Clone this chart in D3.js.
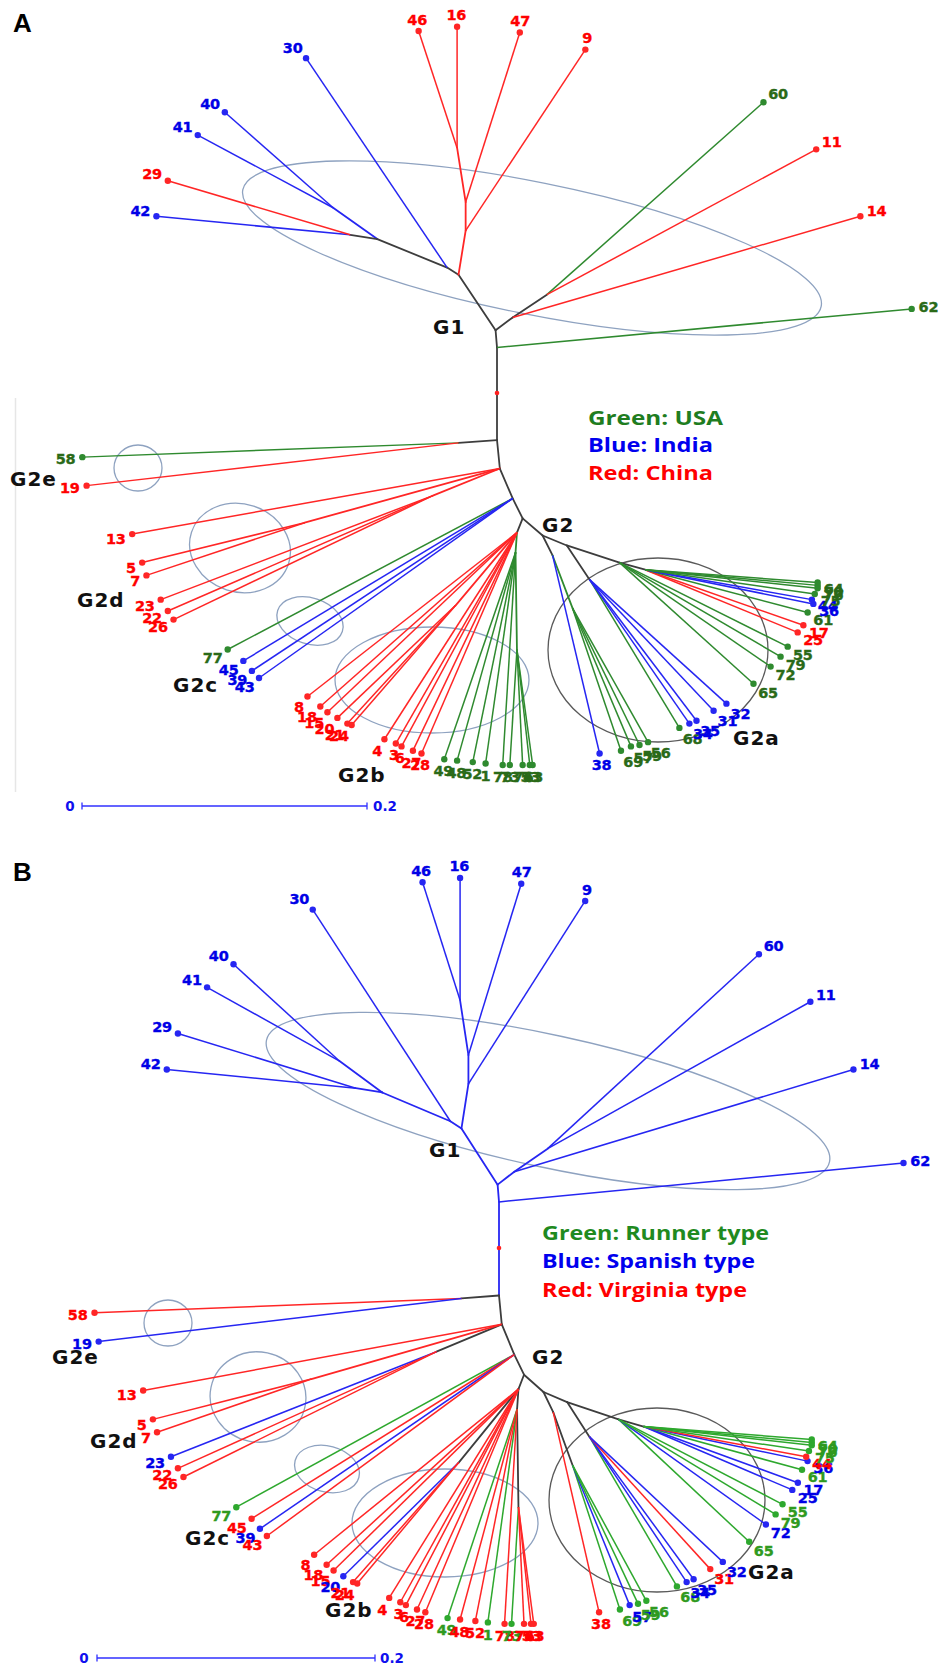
<!DOCTYPE html>
<html><head><meta charset="utf-8">
<script src="https://cdn.jsdelivr.net/npm/d3@7"></script>
<style>body{margin:0;background:#fff}svg{display:block}</style>
</head><body>
<svg id="c" width="940" height="1667"></svg>
<script>
// ---------- DATA (tree coordinates in genetic-distance units, root marker at 0,0) ----------
// internal nodes: [id, parent, x, y]
const internalNodes = [
  ["te", null, 0.000, 0.033],
  ["n62", "te", 0.000, -0.032],
  ["g1b", "n62", -0.001, -0.044],
  ["g1r", "g1b", 0.011, -0.053],
  ["g1r2", "g1r", 0.035, -0.069],
  ["g1c", "g1b", -0.027, -0.083],
  ["g1d", "g1c", -0.035, -0.088],
  ["g1e", "g1d", -0.084, -0.108],
  ["n4041", "g1e", -0.115, -0.130],
  ["n4229", "g1e", -0.103, -0.111],
  ["rc2", "g1c", -0.022, -0.114],
  ["rc3", "rc2", -0.022, -0.134],
  ["rc4", "rc3", -0.028, -0.172],
  ["e0", "te", -0.027, 0.035],
  ["d0", "te", 0.002, 0.053],
  ["d1", "d0", -0.045, 0.072],
  ["d2", "d0", -0.135, 0.091],
  ["c0", "d0", 0.011, 0.074],
  ["g2", "c0", 0.018, 0.088],
  ["b0", "g2", 0.014, 0.098],
  ["bl", "b0", -0.029, 0.149],
  ["bg", "b0", 0.013, 0.112],
  ["bg2", "bg", 0.014, 0.180],
  ["a0", "g2", 0.032, 0.100],
  ["a1", "a0", 0.039, 0.114],
  ["a2", "a1", 0.053, 0.151],
  ["a3", "a0", 0.049, 0.107],
  ["a4", "a3", 0.065, 0.131],
  ["a5", "a3", 0.086, 0.119],
  ["a6", "a5", 0.104, 0.124]
];
// tips: [label, parent, x, y, origin (U=USA, I=India, C=China), market type (R=Runner, S=Spanish, V=Virginia)]
const tips = [
  ["42","n4229",-0.239,-0.124,"I","S"],["29","n4229",-0.231,-0.149,"C","S"],
  ["41","n4041",-0.210,-0.181,"I","S"],["40","n4041",-0.191,-0.197,"I","S"],
  ["30","g1d",-0.134,-0.235,"I","S"],["46","rc4",-0.055,-0.254,"C","S"],
  ["16","rc4",-0.028,-0.257,"C","S"],["47","rc3",0.016,-0.253,"C","S"],
  ["9","rc2",0.062,-0.241,"C","S"],["60","g1r2",0.187,-0.204,"U","S"],
  ["11","g1r2",0.224,-0.171,"C","S"],["14","g1r",0.255,-0.124,"C","S"],
  ["62","n62",0.291,-0.059,"U","S"],
  ["58","e0",-0.291,0.045,"U","V"],["19","e0",-0.288,0.065,"C","S"],
  ["13","d0",-0.256,0.099,"C","V"],["5","d2",-0.249,0.119,"C","V"],
  ["7","d2",-0.246,0.128,"C","V"],["23","d1",-0.236,0.145,"C","S"],
  ["22","d1",-0.231,0.153,"C","V"],["26","d1",-0.227,0.159,"C","V"],
  ["77","c0",-0.189,0.180,"U","R"],["45","c0",-0.178,0.188,"I","V"],
  ["39","c0",-0.172,0.195,"I","S"],["43","c0",-0.167,0.200,"I","V"],
  ["8","b0",-0.133,0.213,"C","V"],["18","b0",-0.124,0.220,"C","V"],
  ["15","b0",-0.119,0.224,"C","V"],["20","bl",-0.112,0.228,"C","S"],
  ["21","bl",-0.105,0.232,"C","V"],["24","bl",-0.102,0.233,"C","V"],
  ["4","b0",-0.079,0.243,"C","V"],["3","b0",-0.071,0.246,"C","V"],
  ["6","b0",-0.067,0.248,"C","V"],["27","b0",-0.059,0.251,"C","V"],
  ["28","b0",-0.053,0.253,"C","V"],
  ["49","bg",-0.037,0.257,"U","R"],["48","bg",-0.028,0.258,"U","V"],
  ["52","bg",-0.017,0.259,"U","V"],["1","bg",-0.008,0.260,"U","R"],
  ["78","bg",0.004,0.261,"U","V"],["73","bg2",0.009,0.261,"U","R"],
  ["74","bg2",0.018,0.261,"U","V"],["53","bg2",0.023,0.261,"U","V"],
  ["63","bg2",0.025,0.261,"U","V"],
  ["38","a1",0.072,0.253,"I","V"],["69","a2",0.087,0.251,"U","R"],
  ["57","a2",0.094,0.248,"U","S"],["59","a2",0.100,0.247,"U","R"],
  ["56","a2",0.106,0.245,"U","R"],["68","a4",0.128,0.235,"U","R"],
  ["34","a4",0.135,0.232,"I","S"],["35","a4",0.140,0.230,"I","S"],
  ["31","a4",0.152,0.223,"I","V"],["32","a4",0.161,0.218,"I","S"],
  ["65","a5",0.180,0.204,"U","R"],["72","a5",0.192,0.192,"U","S"],
  ["79","a5",0.199,0.185,"U","R"],["55","a5",0.204,0.178,"U","R"],
  ["25","a6",0.211,0.168,"C","S"],["17","a6",0.215,0.163,"C","S"],
  ["61","a6",0.218,0.154,"U","R"],["36","a6",0.222,0.148,"I","S"],
  ["44","a6",0.221,0.145,"I","V"],["75","a6",0.223,0.141,"U","R"],
  ["76","a6",0.225,0.137,"U","R"],["70","a6",0.225,0.135,"U","R"],
  ["64","a6",0.225,0.133,"U","R"]
];
const rootMarker = [0, 0];
const groupNames = ["G1","G2","G2a","G2b","G2c","G2d","G2e"];
const scaleTicks = [0, 0.2];
const legendA = [["U","Green: USA"],["I","Blue: India"],["C","Red: China"]];
const legendB = [["R","Green: Runner type"],["S","Blue: Spanish type"],["V","Red: Virginia type"]];

// ---------- STYLE / LAYOUT ----------
const GREEN_A = "#2f8a2f", GREEN_A_TXT = "#2a6a18";
const GREEN_B = "#2ea82e", GREEN_B_TXT = "#2f9a20";
const BLUE = "#2626f2", BLUE_TXT = "#0000e6";
const RED = "#ff2626", RED_TXT = "#ff0000";
const INNER = "#3d3d3d";

const panels = [
  {
    letter: "A", letterPos: [13, 32],
    code: t => t[4],
    lineColor: {U: GREEN_A, I: BLUE, C: RED},
    textColor: {U: GREEN_A_TXT, I: BLUE_TXT, C: RED_TXT},
    x: d3.scaleLinear().domain([-0.3, 0.3]).range([69.5, 924.5]),
    y: d3.scaleLinear().domain([-0.3, 0.3]).range([-34.5, 820.5]),
    legend: legendA, legendX: 588, legendY: [425, 452, 480], legendW: [135, 125, 125], legendColor: {U:"#1f7d1f", I:"#0000ee", C:"#ff0000"},
    groups: {G1:[433,334], G2:[542,532], G2a:[733,745], G2b:[338,782], G2c:[173,692], G2d:[77,607], G2e:[10,486]},
    ellipses: [
      {cx:532, cy:248, rx:295, ry:66, rot:11.4, c:"#8ea2c0"},
      {cx:138, cy:468, rx:24, ry:23, rot:0, c:"#8ea2c0"},
      {cx:240, cy:548, rx:51, ry:44, rot:18, c:"#8ea2c0"},
      {cx:310, cy:621, rx:34, ry:23, rot:18, c:"#8ea2c0"},
      {cx:432, cy:680, rx:97, ry:53, rot:0, c:"#8ea2c0"},
      {cx:658, cy:650, rx:110, ry:92, rot:0, c:"#5a5a5a"}
    ],
    bar: {x0: 82, y: 806, pxPerUnit: 1425, l0: [70, 811], l1x: 373},
    faint: true
  },
  {
    letter: "B", letterPos: [13, 881],
    code: t => t[5],
    lineColor: {R: GREEN_B, S: BLUE, V: RED},
    textColor: {R: GREEN_B_TXT, S: BLUE_TXT, V: RED_TXT},
    x: d3.scaleLinear().domain([-0.3, 0.3]).range([82, 916]),
    y: d3.scaleLinear().domain([-0.3, 0.3]).range([816, 1680]),
    legend: legendB, legendX: 542, legendY: [1240, 1268, 1297], legendW: [227, 213, 205], legendColor: {R:"#1f8a1f", S:"#0000ee", V:"#ff0000"},
    groups: {G1:[429,1157], G2:[532,1364], G2a:[748,1579], G2b:[325,1617], G2c:[185,1545], G2d:[90,1448], G2e:[52,1364]},
    ellipses: [
      {cx:548, cy:1101, rx:288, ry:66, rot:12.2, c:"#8ea2c0"},
      {cx:168, cy:1323, rx:24, ry:23, rot:0, c:"#8ea2c0"},
      {cx:258, cy:1397, rx:48, ry:45, rot:12, c:"#8ea2c0"},
      {cx:327, cy:1469, rx:33, ry:23, rot:15, c:"#8ea2c0"},
      {cx:445, cy:1523, rx:93, ry:54, rot:0, c:"#8ea2c0"},
      {cx:657, cy:1500, rx:108, ry:92, rot:0, c:"#5a5a5a"}
    ],
    bar: {x0: 97, y: 1658, pxPerUnit: 1390, l0: [84, 1663], l1x: 380},
    faint: false
  }
];

// ---------- TREE STRUCTURE ----------
const nodeById = new Map();
internalNodes.forEach(([id, parent, x, y]) => nodeById.set(id, {id, parent, x, y, tip: null, children: []}));
tips.forEach(t => nodeById.set("t" + t[0], {id: "t" + t[0], parent: t[1], x: t[2], y: t[3], tip: t, children: []}));
nodeById.forEach(n => { if (n.parent) nodeById.get(n.parent).children.push(n); });
function tipsUnder(n) { return n.tip ? [n.tip] : n.children.flatMap(tipsUnder); }

const svg = d3.select("#c");
svg.append("rect").attr("width", 940).attr("height", 1667).attr("fill", "#fff");

panels.forEach(P => {
  const g = svg.append("g");
  const X = d => P.x(d.x), Y = d => P.y(d.y);

  if (P.faint) {
    g.append("line").attr("x1", 15.5).attr("x2", 15.5).attr("y1", 398).attr("y2", 792)
      .attr("stroke", "#e6e6e6").attr("stroke-width", 1.5);
  }

  // panel letter
  g.append("text").attr("x", P.letterPos[0]).attr("y", P.letterPos[1]).text(P.letter)
    .attr("font-family", "Liberation Sans, Arial, sans-serif").attr("font-weight", "bold")
    .attr("font-size", 26).attr("fill", "#000");

  // group ellipses
  g.selectAll("ellipse.grp").data(P.ellipses).join("ellipse")
    .attr("cx", 0).attr("cy", 0).attr("rx", d => d.rx).attr("ry", d => d.ry)
    .attr("transform", d => `translate(${d.cx},${d.cy}) rotate(${d.rot})`)
    .attr("fill", "none").attr("stroke", d => d.c).attr("stroke-width", 1.3);

  // edges
  const all = Array.from(nodeById.values()).filter(n => n.parent);
  const edgeColor = n => {
    const codes = new Set(tipsUnder(n).map(P.code));
    return codes.size === 1 ? P.lineColor[[...codes][0]] : INNER;
  };
  const inner = all.filter(n => !n.tip), outer = all.filter(n => n.tip);
  g.selectAll("line.inner").data(inner).join("line")
    .attr("x1", n => X(nodeById.get(n.parent))).attr("y1", n => Y(nodeById.get(n.parent)))
    .attr("x2", X).attr("y2", Y)
    .attr("stroke", edgeColor).attr("stroke-width", 1.8).attr("stroke-linecap", "round");
  g.selectAll("line.outer").data(outer).join("line")
    .attr("x1", n => X(nodeById.get(n.parent))).attr("y1", n => Y(nodeById.get(n.parent)))
    .attr("x2", X).attr("y2", Y)
    .attr("stroke", edgeColor).attr("stroke-width", 1.5);

  // root marker
  g.append("circle").attr("cx", P.x(rootMarker[0])).attr("cy", P.y(rootMarker[1])).attr("r", 2.3).attr("fill", "#ff2020");

  // tip dots
  g.selectAll("circle.tip").data(outer).join("circle")
    .attr("cx", X).attr("cy", Y).attr("r", 3.2)
    .attr("fill", n => P.lineColor[P.code(n.tip)]);

  // tip labels
  g.selectAll("text.tip").data(outer).join("text")
    .each(function(n) {
      const a = Math.atan2(n.y, n.x), c = Math.cos(a), s = Math.sin(a);
      const anchor = c < -0.3 ? "end" : c > 0.3 ? "start" : "middle";
      d3.select(this).attr("x", X(n) + 7 * c).attr("y", Y(n) + 12 * s).attr("dy", "0.36em").attr("text-anchor", anchor);
    })
    .text(n => n.tip[0])
    .attr("font-family", "DejaVu Sans, Verdana, sans-serif").attr("font-weight", "bold")
    .attr("font-size", 14.5).attr("letter-spacing", -0.2)
    .attr("fill", n => P.textColor[P.code(n.tip)])
    .attr("stroke", n => P.textColor[P.code(n.tip)]).attr("stroke-width", 0.35);

  // group labels
  groupNames.forEach(name => {
    const p = P.groups[name];
    g.append("text").attr("x", p[0]).attr("y", p[1]).text(name)
      .attr("font-family", "DejaVu Sans, Verdana, sans-serif").attr("font-weight", "bold")
      .attr("font-size", 20).attr("letter-spacing", 1).attr("fill", "#111");
  });

  // legend
  P.legend.forEach(([code, txt], i) => {
    g.append("text").attr("x", P.legendX).attr("y", P.legendY[i]).text(txt)
      .attr("font-family", "Open Sans, Noto Sans, sans-serif").attr("font-weight", "bold")
      .attr("font-size", 19).attr("textLength", P.legendW[i]).attr("lengthAdjust", "spacingAndGlyphs")
      .attr("fill", P.legendColor[code]);
  });

  // scale bar
  const b = P.bar;
  const sb = d3.scaleLinear().domain([scaleTicks[0], scaleTicks[1]]).range([b.x0, b.x0 + b.pxPerUnit * (scaleTicks[1] - scaleTicks[0])]);
  g.append("line").attr("x1", sb(scaleTicks[0])).attr("x2", sb(scaleTicks[1])).attr("y1", b.y).attr("y2", b.y)
    .attr("stroke", "#3030ff").attr("stroke-width", 1.5);
  scaleTicks.forEach(t => g.append("line").attr("x1", sb(t)).attr("x2", sb(t)).attr("y1", b.y - 3.5).attr("y2", b.y + 3.5)
    .attr("stroke", "#3030ff").attr("stroke-width", 1.3));
  g.append("text").attr("x", b.l0[0]).attr("y", b.l0[1]).attr("text-anchor", "middle").text(String(scaleTicks[0]))
    .attr("font-family", "DejaVu Sans, Verdana, sans-serif").attr("font-weight", "bold").attr("font-size", 13.5).attr("fill", "#1010ee");
  g.append("text").attr("x", b.l1x).attr("y", b.l0[1]).text(String(scaleTicks[1]))
    .attr("font-family", "DejaVu Sans, Verdana, sans-serif").attr("font-weight", "bold").attr("font-size", 13.5).attr("fill", "#1010ee");
});
</script>
</body></html>
